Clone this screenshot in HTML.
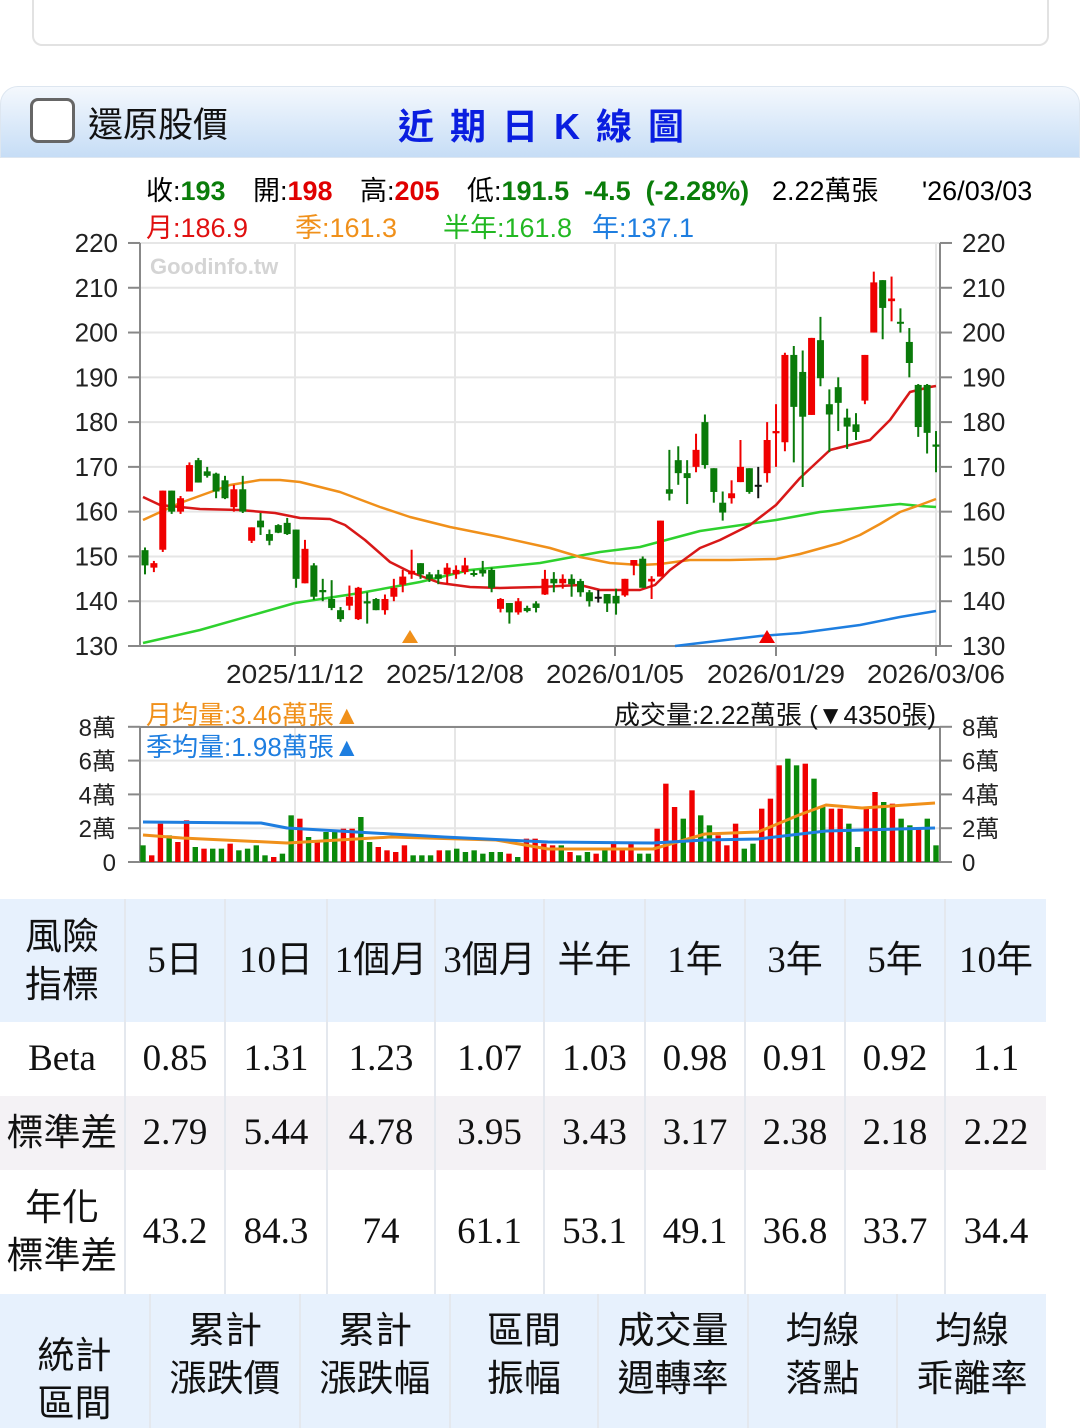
<!DOCTYPE html>
<html><head><meta charset="utf-8">
<style>
*{margin:0;padding:0;box-sizing:border-box}
body{width:1080px;height:1397px;overflow:hidden;background:#fff;font-family:"Liberation Sans","Noto Sans CJK TC",sans-serif;position:relative}
.topcard{position:absolute;left:32px;top:-10px;width:1017px;height:56px;border:2px solid #e2e2e2;border-top:none;border-radius:0 0 10px 10px;background:#fff}
.hdr{position:absolute;left:0;top:86px;width:1080px;height:72px;border:1px solid #dde6f0;border-radius:18px 18px 0 0;background:linear-gradient(#f4f8fd,#c6ddf6)}
.cb{position:absolute;left:30px;top:98px;width:45px;height:45px;border:3px solid #666;border-radius:8px;background:#fff}
.t1{position:absolute;left:88px;top:97px;font-size:35px;color:#111}
.t2{position:absolute;left:398px;top:98px;font-size:36px;font-weight:bold;color:#0a1ee0;letter-spacing:2px;word-spacing:2px}
.info{position:absolute;font-size:27px;white-space:pre;line-height:30px}
.g{color:#0a7d0a;font-weight:bold}.r{color:#e00000;font-weight:bold}
table{position:absolute;left:0;border-collapse:collapse;table-layout:fixed}
td{text-align:center;border-left:2px solid #e4e8ee;font-family:"Liberation Serif","Noto Sans CJK TC",serif;font-size:37px;color:#111;line-height:48px}
.h td{background:#e7f1fd}
.z td{background:#f4f2f5}
</style></head><body>
<div class="topcard"></div>
<div class="hdr"></div>
<div class="cb"></div>
<div class="t1">還原股價</div>
<div class="t2">近 期 日 K 線 圖</div>
<div class="info" style="left:146px;top:176px">收:<span class="g">193</span></div>
<div class="info" style="left:253px;top:176px">開:<span class="r">198</span></div>
<div class="info" style="left:360px;top:176px">高:<span class="r">205</span></div>
<div class="info" style="left:467px;top:176px">低:<span class="g">191.5  -4.5  (-2.28%)</span></div>
<div class="info" style="left:772px;top:176px">2.22萬張</div>
<div class="info" style="left:922px;top:176px">'26/03/03</div>
<div class="info" style="left:146px;top:213px;color:#e01010">月:186.9</div>
<div class="info" style="left:295px;top:213px;color:#f0901a">季:161.3</div>
<div class="info" style="left:443px;top:213px;color:#22b822">半年:161.8</div>
<div class="info" style="left:592px;top:213px;color:#1e7ee0">年:137.1</div>
<svg id="c" width="1080" height="900" style="position:absolute;left:0;top:0" font-family="Liberation Sans, Noto Sans CJK TC, sans-serif"></svg>

<table style="top:899px;width:1046px">
<colgroup><col style="width:125px"><col style="width:100px"><col style="width:102px"><col style="width:108px"><col style="width:109px"><col style="width:101px"><col style="width:100px"><col style="width:100px"><col style="width:100px"><col style="width:101px"></colgroup>
<tr class="h" style="height:123px"><td style="border-left:none;font-family:'Liberation Sans','Noto Sans CJK TC',sans-serif">風險<br>指標</td><td>5日</td><td>10日</td><td>1個月</td><td>3個月</td><td>半年</td><td>1年</td><td>3年</td><td>5年</td><td>10年</td></tr>
<tr style="height:74px"><td style="border-left:none">Beta</td><td>0.85</td><td>1.31</td><td>1.23</td><td>1.07</td><td>1.03</td><td>0.98</td><td>0.91</td><td>0.92</td><td>1.1</td></tr>
<tr class="z" style="height:74px"><td style="border-left:none;font-family:'Liberation Sans','Noto Sans CJK TC',sans-serif">標準差</td><td>2.79</td><td>5.44</td><td>4.78</td><td>3.95</td><td>3.43</td><td>3.17</td><td>2.38</td><td>2.18</td><td>2.22</td></tr>
<tr style="height:124px"><td style="border-left:none;font-family:'Liberation Sans','Noto Sans CJK TC',sans-serif">年化<br>標準差</td><td>43.2</td><td>84.3</td><td>74</td><td>61.1</td><td>53.1</td><td>49.1</td><td>36.8</td><td>33.7</td><td>34.4</td></tr>
</table>
<table style="top:1294px;width:1046px">
<colgroup><col style="width:150px"><col style="width:150px"><col style="width:150px"><col style="width:148px"><col style="width:150px"><col style="width:149px"><col style="width:149px"></colgroup>
<tr class="h" style="height:130px;vertical-align:top"><td style="border-left:none;font-family:'Liberation Sans','Noto Sans CJK TC',sans-serif;padding-top:38px">統計<br>區間</td><td style="padding-top:14px">累計<br>漲跌價</td><td style="padding-top:14px">累計<br>漲跌幅</td><td style="padding-top:14px">區間<br>振幅</td><td style="padding-top:14px">成交量<br>週轉率</td><td style="padding-top:14px">均線<br>落點</td><td style="padding-top:14px">均線<br>乖離率</td></tr>
</table>

<script>
const S=document.getElementById('c');let h='';
const X0=140,X1=940,Y=v=>646-(v-130)*4.478;
for(let v=130;v<=220;v+=10){const y=Y(v);h+=`<line x1="${X0}" y1="${y}" x2="${X1}" y2="${y}" stroke="#e6e6e6" stroke-width="2"/>`;
h+=`<line x1="128" y1="${y}" x2="140" y2="${y}" stroke="#888" stroke-width="2"/><line x1="940" y1="${y}" x2="952" y2="${y}" stroke="#888" stroke-width="2"/>`;
h+=`<text x="118" y="${y+9}" font-size="26" text-anchor="end" fill="#222">${v}</text><text x="962" y="${y+9}" font-size="26" fill="#222">${v}</text>`;}
[295,455,615,776,936].forEach(x=>{h+=`<line x1="${x}" y1="243" x2="${x}" y2="646" stroke="#e6e6e6" stroke-width="2"/><line x1="${x}" y1="646" x2="${x}" y2="656" stroke="#888" stroke-width="2"/>`;});
h+=`<line x1="140" y1="243" x2="140" y2="646" stroke="#888" stroke-width="2"/><line x1="940" y1="243" x2="940" y2="646" stroke="#888" stroke-width="2"/><line x1="140" y1="646" x2="940" y2="646" stroke="#888" stroke-width="2"/>`;
h+=`<text x="150" y="274" font-size="22" font-weight="bold" fill="#d4d4d4">Goodinfo.tw</text>`;
[['2025/11/12',295],['2025/12/08',455],['2026/01/05',615],['2026/01/29',776],['2026/03/06',936]].forEach(d=>{h+=`<text x="${d[1]}" y="683" font-size="26" text-anchor="middle" fill="#222" textLength="138" lengthAdjust="spacingAndGlyphs">${d[0]}</text>`;});
const pl=(pts,c,w)=>{h+=`<polyline points="${pts.map(p=>p.join(',')).join(' ')}" fill="none" stroke="${c}" stroke-width="${w||2.5}" stroke-linejoin="round"/>`;};
pl([[143,643],[200,630],[295,603],[360,593],[420,582],[470,570],[540,563],[600,552],[640,547],[700,531],[776,520],[820,512],[860,508],[900,504],[920,506],[936,507]],'#2ed12e');
pl([[143,520],[180,503],[230,485],[260,480],[280,480],[300,482],[340,492],[380,507],[410,517],[450,527],[500,537],[550,548],[580,557],[610,563],[640,565],[660,564],[690,560],[730,560],[776,559],[800,554],[840,543],[860,535],[880,524],[900,512],[920,505],[936,499]],'#f0901a');
pl([[675,646],[700,643],[760,636],[800,633],[860,625],[900,617],[936,611]],'#1e7ee0');
pl([[143,497],[160,505],[200,509],[240,510],[275,513],[300,518],[330,519],[345,525],[365,540],[390,562],[410,572],[440,583],[470,587],[500,588],[540,587],[580,585],[600,590],[640,590],[655,585],[670,570],[700,548],[720,540],[750,525],[776,505],[800,478],[830,450],[850,445],[870,440],[890,420],[910,392],[930,387],[936,386]],'#d81818');
const K=[[151.4,148,152,146],[147.5,148.5,149,146.5],[151.5,164.7,164.7,151],[164.7,160,164.7,159.5],[160,163,163.5,159.5],[164.5,170.4,171,164.5],[171.5,166.5,172,166.5],[169,168,170,167.6],[168.5,164.5,168.7,163],[167,163,168,162.8],[161,165,166,160],[165,160,168,159.7],[153.5,156.5,156.5,153],[158,156.5,159.7,154.8],[155,153.5,156,152.5],[157,155.3,157.2,155.2],[157.5,155,158.6,154.8],[156,145,156,143],[144,151.7,153.7,144],[148,141,148.5,140.3],[142.5,142,145,140],[140.5,138.5,144.7,138],[138,136,138.7,135.4],[139,141,143.5,138],[136,143,143.2,135.8],[140,139.5,142,135],[140.5,138,140.7,138],[138,140.5,141.5,137],[141,143,145,140],[143.7,145.5,147,142],[146,146.8,151.5,145],[148.5,146,148.5,145],[146,145,146.5,144.3],[146,145,147,143.8],[146,147.5,148.5,143.8],[146,147,148,145],[146.5,148,149.7,146],[146.3,146,147,145.5],[147,146.2,149,145.5],[147,143,147.5,142],[138.3,140.5,140.7,137.5],[139.6,137.5,139.6,135],[137.5,140,140.7,137],[138.5,137.8,139,137.5],[139.5,138.5,140,137.5],[141.5,145,147,141.4],[145,144,146.5,142],[144,145,146,142.8],[145,143.8,146,141],[144.5,142,145,141],[142,140,142.5,138.8],[141,141,142.5,139.7,1],[141.6,139.5,141.6,137.6],[141.2,139.5,142.8,137],[141.3,145,145,141],[148,149.2,149.2,145.8],[149.5,143,150,143],[144.4,145,145.6,140.5],[145.5,158,158,145.5],[165,164,173.8,162.5],[171.5,168.6,174.6,166],[168.6,167.5,171.5,161.7],[170,173.8,177.4,168.8],[180,170.4,181.7,169.6],[169.7,164.4,169.7,162],[162,159.8,164.5,158],[163,164.1,167,161.8],[166.6,170,176,166.6],[169.7,164.4,169.7,164],[166,166,170,163,1],[168.6,176,180,166.5],[177.5,178,184,170],[175.5,195,195.5,173.5],[195,183.4,197,171],[191.2,181.2,196,165.5],[181.6,198.8,198.8,181.6],[198.3,189.8,203.5,188],[184,181.7,187.3,173.3],[187.8,184.3,190,178],[181,179,183,174],[179.5,177.8,182,176],[184.8,195,195,184],[200,211.2,213.6,200],[211.7,205.5,211.7,198.5],[207,207.6,212.5,202.5],[202.4,202.2,205.4,200],[197.9,193.2,201,190],[188.3,178.9,188.5,176.7],[188.3,177.6,188.5,173],[175,174.5,178,168.8]];
const P=(936-145)/89;
K.forEach((k,i)=>{const x=145+i*P;let col=k[4]?'#111':(k[1]>=k[0]?'#f00000':'#0a7a0a');
const t=Y(Math.max(k[0],k[1])),b=Y(Math.min(k[0],k[1]));
h+=`<line x1="${x}" y1="${Y(k[2])}" x2="${x}" y2="${Y(k[3])}" stroke="${col}" stroke-width="2"/>`;
h+=`<rect x="${x-3.5}" y="${t}" width="7" height="${Math.max(b-t,2)}" fill="${col}"/>`;});
h+=`<polygon points="410,630 402,643 418,643" fill="#f0901a"/><polygon points="767,630 759,643 775,643" fill="#f00000"/>`;
const VB=862,U=16.9;
[0,2,4,6,8].forEach(n=>{const y=VB-n*U;h+=`<line x1="140" y1="${y}" x2="940" y2="${y}" stroke="#e6e6e6" stroke-width="2"/><line x1="128" y1="${y}" x2="140" y2="${y}" stroke="#888" stroke-width="2"/><line x1="940" y1="${y}" x2="952" y2="${y}" stroke="#888" stroke-width="2"/>`;
const l=n?n+'萬':'0';h+=`<text x="116" y="${y+9}" font-size="24" text-anchor="end" fill="#222">${l}</text><text x="962" y="${y+9}" font-size="24" fill="#222">${l}</text>`;});
[295,455,615,776].forEach(x=>{h+=`<line x1="${x}" y1="727" x2="${x}" y2="862" stroke="#e6e6e6" stroke-width="2"/>`;});
h+=`<line x1="140" y1="727" x2="140" y2="862" stroke="#888" stroke-width="2"/><line x1="940" y1="727" x2="940" y2="862" stroke="#888" stroke-width="2"/><line x1="140" y1="862" x2="940" y2="862" stroke="#888" stroke-width="2"/><line x1="140" y1="727" x2="940" y2="727" stroke="#888" stroke-width="2"/>`;
const V='g50 r20 r115 g80 r60 r125 g45 r40 g40 g40 r55 g35 g40 g50 g20 r15 g25 g140 r130 g75 r60 g90 g95 r100 r100 g135 g60 r45 r35 r30 r50 g20 g20 g20 r35 g35 g40 g30 g35 g25 g30 g30 r25 g15 r70 r70 r55 r50 g50 r30 g20 g30 r25 g35 r55 r40 r55 g25 g25 r100 r235 r165 g130 r215 g140 g110 r80 r50 r115 g40 g55 r160 r190 r290 g310 g290 r295 g250 g165 r160 r160 g115 g45 r160 r210 g180 r175 g130 g110 r100 g130 g50'.split(' ');
const n=V.length,VP=(936-143)/(n-1);
V.forEach((s,i)=>{const x=143+i*VP,hh=parseInt(s.slice(1))/3;h+=`<rect x="${x-2.7}" y="${VB-hh}" width="5.4" height="${hh}" fill="${s[0]=='r'?'#f00000':'#0a8a0a'}"/>`;});
pl([[143,835],[182,838],[287,843],[391,837],[496,840],[548,849],[653,849],[705,834],[758,832],[799,815],[826,805],[862,808],[935,803]],'#f0901a',3);
pl([[143,822],[261,823],[287,828],[444,837],[548,842],[653,843],[705,840],[758,839],[826,831],[935,828]],'#1e7ee0',3);
h+=`<text x="146" y="724" font-size="26" fill="#f0901a">月均量:3.46萬張▲</text><text x="146" y="756" font-size="26" fill="#1e7ee0">季均量:1.98萬張▲</text><text x="936" y="724" font-size="26" text-anchor="end" fill="#111">成交量:2.22萬張 (▼4350張)</text>`;
S.innerHTML=h;
</script>
</body></html>
